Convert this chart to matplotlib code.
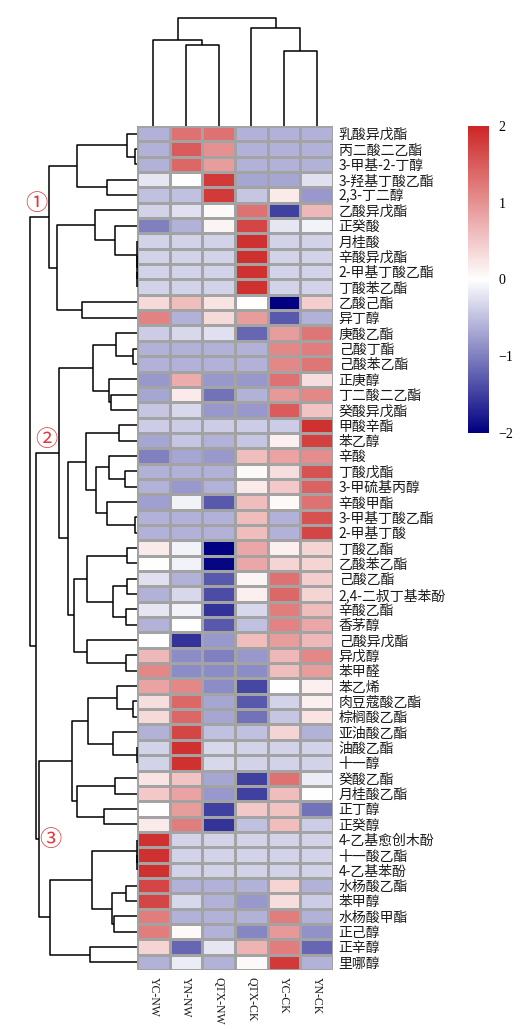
import matplotlib.pyplot as plt
from matplotlib.colors import LinearSegmentedColormap
import numpy as np

plt.rcParams['font.family'] = ['Noto Sans CJK SC', 'DejaVu Sans']

row_labels = [
    '乳酸异戊酯', '丙二酸二乙酯', '3-甲基-2-丁醇', '3-羟基丁酸乙酯', '2,3-丁二醇',
    '乙酸异戊酯', '正癸酸', '月桂酸', '辛酸异戊酯', '2-甲基丁酸乙酯', '丁酸苯乙酯',
    '乙酸己酯', '异丁醇', '庚酸乙酯', '己酸丁酯', '己酸苯乙酯', '正庚醇', '丁二酸二乙酯',
    '癸酸异戊酯', '甲酸辛酯', '苯乙醇', '辛酸', '丁酸戊酯', '3-甲硫基丙醇', '辛酸甲酯',
    '3-甲基丁酸乙酯', '2-甲基丁酸', '丁酸乙酯', '乙酸苯乙酯', '己酸乙酯',
    '2,4-二叔丁基苯酚', '辛酸乙酯', '香茅醇', '己酸异戊酯', '异戊醇', '苯甲醛', '苯乙烯',
    '肉豆蔻酸乙酯', '棕榈酸乙酯', '亚油酸乙酯', '油酸乙酯', '十一醇', '癸酸乙酯',
    '月桂酸乙酯', '正丁醇', '正癸醇', '4-乙基愈创木酚', '十一酸乙酯', '4-乙基苯酚',
    '水杨酸乙酯', '苯甲醇', '水杨酸甲酯', '正己醇', '正辛醇', '里哪醇',
]
col_labels = ['YC-NW', 'YN-NW', 'QTX-NW', 'QTX-CK', 'YC-CK', 'YN-CK']

# z-scores per column, rows in the order above
yc_nw = [-0.6, -0.6, -0.6, -0.2, -0.5, -0.35, -1.0, -0.35, -0.35, -0.35, -0.35,
         0.35, 1.15, -0.4, -0.6, -0.6, -0.8, -0.7, -0.45, -0.4, -0.7, -1.0, -0.6,
         -0.6, -0.75, -0.6, -0.6, 0.2, 0.0, -0.25, -0.6, -0.2, -0.6, 0.0, 0.65,
         1.1, 0.85, 0.3, 0.35, -0.6, -0.35, -0.35, 0.25, 0.5, 0.0, 0.2, 1.9, 1.9,
         1.9, 1.7, 1.7, 1.2, 1.2, 0.4, -0.6]
yn_nw = [1.3, 1.5, 1.4, 0.0, -0.5, -0.25, -0.6, -0.35, -0.35, -0.35, -0.35,
         0.6, -0.6, -0.3, -0.6, -0.6, 0.75, 0.2, -0.3, -0.4, -0.45, -0.7, -0.6,
         -0.8, -0.1, -0.6, -0.6, -0.1, -0.1, -0.6, -0.3, -0.1, 0.0, -1.6, -0.9,
         -0.9, 1.1, 1.4, 1.4, 1.7, 1.9, 1.9, 0.55, 0.85, 0.9, 1.2, -0.35, -0.35,
         -0.35, -0.6, -0.3, -0.6, 0.05, -1.2, -0.15]
qtx_nw = [1.3, 1.0, 0.9, 1.8, 1.8, 0.05, 0.1, -0.35, -0.35, -0.35, -0.35,
          0.25, 0.35, -0.25, -0.6, -0.6, -0.8, -1.1, -0.8, -0.4, -0.6, -0.8, -0.6,
          -0.6, -1.3, -0.6, -0.6, -2.0, -1.95, -1.3, -1.4, -1.6, -1.3, -0.8, -1.0,
          -0.9, -0.9, -0.7, -0.7, -0.5, -0.3, -0.3, -0.7, -0.8, -1.5, -1.6, -0.35,
          -0.35, -0.35, -0.6, -0.6, -0.6, -0.6, -0.2, -0.6]
qtx_ck = [-0.6, -0.6, -0.6, -0.7, -0.45, 1.3, 1.7, 1.9, 1.9, 1.9, 1.9,
          0.0, 0.9, -1.2, -0.6, -0.6, -0.8, -0.6, -0.8, -0.4, -0.45, 0.6, 0.05,
          0.2, 0.6, 0.6, 0.6, 0.8, 0.8, 0.1, 0.15, -0.3, -0.5, 0.6, -0.8,
          -0.9, -1.45, -1.3, -1.1, -0.5, -0.35, -0.35, -1.5, -1.5, 0.5, -0.5, -0.35,
          -0.35, -0.35, -0.6, -0.8, -0.6, -0.95, 0.7, 0.05]
yc_ck = [-0.6, -0.6, -0.6, -0.7, 0.2, -1.5, -0.2, -0.35, -0.35, -0.35, -0.35,
         -2.0, -1.3, 0.9, 1.1, 1.1, 1.3, 0.95, 1.5, -0.4, 0.15, 0.85, 0.3,
         0.5, 0.05, -0.6, -0.6, 0.15, 0.4, 1.3, 1.4, 1.2, 1.15, 0.9, 0.65,
         0.6, 0.0, -0.35, -0.45, 0.4, -0.35, -0.35, 1.3, 0.6, 0.55, 0.6, -0.35,
         -0.35, -0.35, 0.4, 0.3, 1.2, 0.95, 1.2, 1.8]
yn_ck = [-0.6, -0.6, -0.6, -0.25, -0.8, 0.65, -0.1, -0.35, -0.35, -0.35, -0.35,
         0.45, -0.6, 1.25, 1.2, 1.25, 0.3, 1.1, 0.55, 1.9, 1.75, 1.05, 1.6,
         1.45, 1.3, 1.6, 1.7, 0.4, 0.4, 0.45, 0.4, 0.6, 0.8, 0.65, 1.1,
         0.9, 0.15, 0.15, 0.25, -0.6, -0.35, -0.35, -0.15, 0.0, -1.1, -0.4, -0.35,
         -0.35, -0.35, -0.6, -0.4, -0.6, -0.85, -1.2, -0.6]

# cluster trees: [left, right, merge height]; ints are row / column indices
col_tree = [[0, [1, 2, 81], 86], [3, [4, 5, 75], 97.7], 107.7]

clu1 = [[[0, [1, 2, 2.3], 10], [3, 4, 30.3], 60],
        [[5, [6, [7, [8, [9, 10, 0.4], 0.4], 0.4], 22.3], 41.7], [11, 12, 55.3], 79.7], 88]
clu2a = [[13, [14, 15, 3.7], 21], [16, [17, 18, 26.3], 27.7], 43.7]
clu2b_up = [[19, 20, 18], [[21, [22, 23, 12], 27.7], [24, [25, 26, 2], 29.7], 41.3], 51]
clu2b_lo = [[[27, 28, 10.3], [[29, 30, 9.7], [31, 32, 11], 23.7], 49.7],
            [33, [34, 35, 11], 49.7], 63]
clu2 = [clu2a, [clu2b_up, clu2b_lo, 69.3], 77.7]
clu3a = [[[36, [37, 38, 3.7], 19.7], [39, [40, 41, 0.4], 23.7], 48.7],
         [[42, 43, 22], [44, 45, 32.7], 59.7], 65]
clu3b = [[[46, [47, 48, 0.4], 0.4], [[49, 50, 11], [51, 52, 22.7], 24.7], 45.3],
         [53, 54, 47], 87]
clu3 = [clu3a, clu3b, 97.7]
row_tree = [clu1, [clu2, clu3, 101.3], 106.7]

data = np.array([yc_nw, yn_nw, qtx_nw, qtx_ck, yc_ck, yn_ck]).T
n_rows, n_cols = data.shape

cmap = LinearSegmentedColormap.from_list('nwf', ['#000080', '#ffffff', '#cd2626'])


def tree_lines(node):
    if isinstance(node, int):
        return node + 0.5, 0.0, []
    left, right, h = node
    lp, lh, ls = tree_lines(left)
    rp, rh, rs = tree_lines(right)
    seg = ([lp, lp, rp, rp], [lh, h, h, rh])
    return (lp + rp) / 2, h, ls + rs + [seg]


W, H = 530, 1029
fig = plt.figure(figsize=(W / 100, H / 100), dpi=100)


def px_axes(x0, y0, x1, y1):
    return fig.add_axes([x0 / W, 1 - y1 / H, (x1 - x0) / W, (y1 - y0) / H])


# heatmap
ax = px_axes(137, 126, 333, 970)
mesh = ax.pcolormesh(data, cmap=cmap, vmin=-2, vmax=2,
                     edgecolors='#a3a3a3', linewidth=0.9)
ax.set_xlim(0, n_cols)
ax.set_ylim(n_rows, 0)
for s in ax.spines.values():
    s.set_visible(False)
ax.yaxis.tick_right()
ax.set_yticks(np.arange(n_rows) + 0.5)
ax.set_yticklabels(row_labels, fontsize=10, color='#1a1a1a')
ax.set_xticks(np.arange(n_cols) + 0.5)
ax.set_xticklabels(col_labels, rotation=-90, fontsize=8.5, color='#1a1a1a',
                   family=['Liberation Serif', 'DejaVu Serif'])
ax.tick_params(length=0, pad=4)
ax.tick_params(axis='x', pad=5)

# row dendrogram
axr = px_axes(20, 126, 137, 970)
for ys, xs in tree_lines(row_tree)[2]:
    axr.plot(xs, ys, color='black', lw=1.1, clip_on=False, solid_capstyle='butt')
axr.set_xlim(117, 0)
axr.set_ylim(n_rows, 0)
axr.axis('off')

# column dendrogram
axc = px_axes(137, 10, 333, 126)
for xs, ys in tree_lines(col_tree)[2]:
    axc.plot(xs, ys, color='black', lw=1.1, clip_on=False, solid_capstyle='butt')
axc.set_xlim(0, n_cols)
axc.set_ylim(0, 116)
axc.axis('off')

# colour bar
cax = px_axes(468, 126, 489, 433)
cb = fig.colorbar(mesh, cax=cax, ticks=[-2, -1, 0, 1, 2])
cb.outline.set_visible(False)
cax.tick_params(length=0, pad=7, labelsize=10)
for t in cax.get_yticklabels():
    t.set_family(['Liberation Serif', 'DejaVu Serif'])

# cluster marks
for txt, x, y in [('①', 36.7, 203), ('②', 46, 440), ('③', 50.8, 840)]:
    fig.text(x / W, 1 - y / H, txt, color='#e0393e', fontsize=16,
             ha='center', va='center')

fig.savefig('out.png', dpi=100)
